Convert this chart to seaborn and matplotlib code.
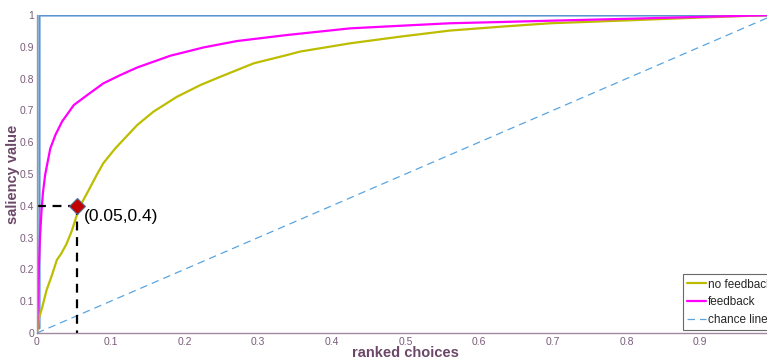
import matplotlib
matplotlib.use("Agg")
import matplotlib.pyplot as plt
import seaborn as sns

# ---- data ----
nofb_x = [0, 0.003, 0.007, 0.013, 0.02, 0.027, 0.033, 0.04, 0.047, 0.054, 0.061, 0.068,
          0.081, 0.09, 0.106, 0.136, 0.158, 0.19, 0.222, 0.249, 0.294, 0.339, 0.357,
          0.425, 0.493, 0.56, 0.628, 0.696, 0.8, 0.9, 1.0]
nofb_y = [0, 0.05, 0.08, 0.135, 0.18, 0.23, 0.25, 0.28, 0.32, 0.37, 0.41, 0.44,
          0.497, 0.534, 0.58, 0.654, 0.696, 0.743, 0.78, 0.806, 0.848, 0.874, 0.885,
          0.911, 0.932, 0.951, 0.963, 0.974, 0.983, 0.992, 1.0]
fb_x = [0, 0.002, 0.004, 0.006, 0.008, 0.011, 0.018, 0.025, 0.034, 0.05, 0.068, 0.09,
        0.113, 0.136, 0.181, 0.226, 0.271, 0.339, 0.425, 0.5, 0.56, 0.63, 0.696, 0.8,
        0.9, 1.0]
fb_y = [0, 0.17, 0.3, 0.38, 0.44, 0.497, 0.58, 0.623, 0.665, 0.717, 0.748, 0.785,
        0.811, 0.835, 0.872, 0.898, 0.918, 0.937, 0.958, 0.967, 0.974, 0.978, 0.982, 0.988,
        0.994, 1.0]
ideal_x = [0.003, 0.003, 1.0]
ideal_y = [0.015, 1.0, 1.0]
chance_x = [0, 1]
chance_y = [0, 1]
point_x, point_y = 0.054, 0.40
point_label = "(0.05,0.4)"
xticks = [0, 0.1, 0.2, 0.3, 0.4, 0.5, 0.6, 0.7, 0.8, 0.9]
xticklabels = ["0", "0.1", "0.2", "0.3", "0.4", "0.5", "0.6", "0.7", "0.8", "0.9"]
yticks = [0, 0.1, 0.2, 0.3, 0.4, 0.5, 0.6, 0.7, 0.8, 0.9, 1.0]
yticklabels = ["0", "0.1", "0.2", "0.3", "0.4", "0.5", "0.6", "0.7", "0.8", "0.9", "1"]

sns.set_style("white")
plt.rcParams['font.family'] = ['Liberation Sans', 'DejaVu Sans']

fig = plt.figure(figsize=(7.67, 3.6), dpi=100)
ax = fig.add_axes([37/767, 27/360, (774-37)/767, (333-15)/360])

tick_col = "#7a5c7a"
lab_col = "#6b4868"

sns.lineplot(x=ideal_x, y=ideal_y, ax=ax, color="#9cc3ea", lw=2.6, sort=False,
             estimator=None, label="_nolegend_")
sns.lineplot(x=ideal_x, y=ideal_y, ax=ax, color="#5b94cf", lw=1.0, sort=False,
             estimator=None, label="_nolegend_")
sns.lineplot(x=nofb_x, y=nofb_y, ax=ax, color="#bdbd00", lw=1.6, estimator=None,
             label="no feedback")
sns.lineplot(x=fb_x, y=fb_y, ax=ax, color="#ff00ff", lw=1.6, estimator=None,
             label="feedback")
sns.lineplot(x=chance_x, y=chance_y, ax=ax, color="#5aa5e0", lw=0.9, estimator=None,
             label="chance line", linestyle=(0, (6, 4)))

ax.plot([0, point_x], [point_y, point_y], color="black", lw=1.6, ls=(0, (4, 3)))
ax.plot([point_x, point_x], [point_y, 0], color="black", lw=1.6, ls=(0, (4, 3)))
ax.plot([point_x], [point_y], marker="D", ms=8, color="#c00000",
        markeredgecolor="#5a6e9a", markeredgewidth=0.8)
ax.text(point_x + 0.009, point_y - 0.035, point_label, fontsize=12.5, color="black",
        va="center", ha="left")

ax.set_xlim(0, 1)
ax.set_ylim(0, 1)
ax.set_xticks(xticks)
ax.set_xticklabels(xticklabels)
ax.set_yticks(yticks)
ax.set_yticklabels(yticklabels)
ax.tick_params(axis="both", direction="in", length=5, width=0.8, colors=tick_col,
               labelsize=7.5, pad=3)
ax.tick_params(axis="y", pad=2)
for s in ["top", "right"]:
    ax.spines[s].set_visible(False)
ax.spines["bottom"].set_color("#a08aa0")
ax.spines["left"].set_color("#9a9a9a")
ax.spines["bottom"].set_linewidth(1.0)
ax.spines["left"].set_linewidth(1.0)

ax.set_xlabel("ranked choices", fontsize=10.5, fontweight="bold", color=lab_col, labelpad=-1)
ax.set_ylabel("saliency value", fontsize=10.5, fontweight="bold", color=lab_col, labelpad=-0.5)

leg = ax.legend(loc="lower right", bbox_to_anchor=(1.003, 0.008), fontsize=8.5,
                frameon=True, fancybox=False, handlelength=1.6, handletextpad=0.15,
                borderpad=0.35, labelspacing=0.5, borderaxespad=0)
leg.get_frame().set_edgecolor("#444444")
leg.get_frame().set_linewidth(0.8)

fig.savefig("out.png", dpi=100)
